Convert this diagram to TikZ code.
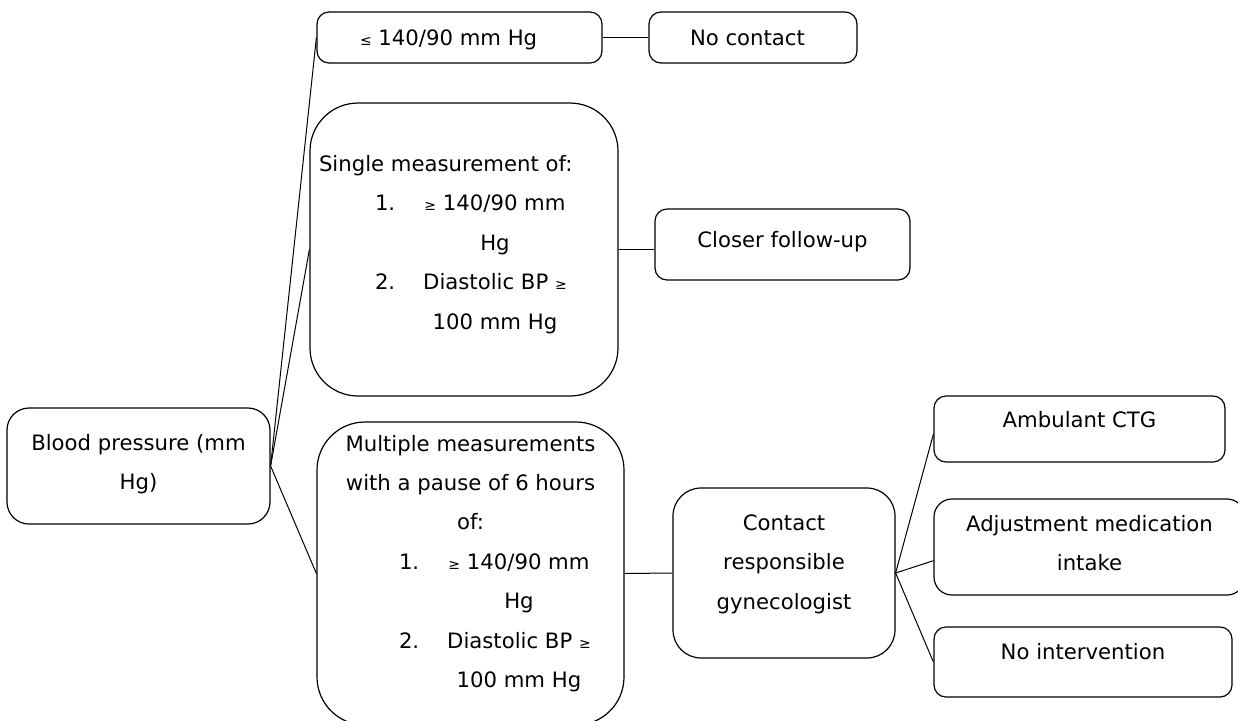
\documentclass[tikz,border=0pt]{standalone}
\usepackage{fontspec}
\setmainfont{DejaVu Sans}

\newcommand{\smallrel}[1]{{\fontsize{7}{7}\selectfont #1}}
\newcommand{\ctext}[2][0pt]{\begin{tabular}{@{}c@{}}#2\\[#1]\end{tabular}}
\newcommand{\ltext}[3][0pt]{\begin{tabular}{@{}p{#2}@{}}#3\\[#1]\end{tabular}}
\newcommand{\crow}[1]{\makebox[\linewidth]{#1}}
\newcommand{\listrow}[3]{\hspace*{#1}\makebox[24pt][l]{#2}\makebox[72pt]{#3}}

\tikzset{
  box/.style={draw, line width=0.6pt, rounded corners=6pt, inner sep=0pt,
    font=\fontsize{10.6}{19.7}\selectfont},
  link/.style={line width=0.5pt},
}

\begin{document}
\begin{tikzpicture}[x=0.5pt, y=-0.5pt]
\useasboundingbox (0,0) rectangle (1238,720);

\node[box, rounded corners=11pt, minimum width=131.5pt, minimum height=58pt] (blood) at (138.5,466)
  {\ctext[4pt]{Blood pressure (mm\\Hg)}};

\node[box, minimum width=142.5pt, minimum height=25.5pt] (low) at (459.5,37.5)
  {\ltext{142.5pt}{\hspace*{21.5pt}\smallrel{≤} 140/90 mm Hg}};
\node[box, minimum width=104pt, minimum height=25.5pt] (nocontact) at (753,37.5)
  {\ltext{104pt}{\hspace*{20.5pt}No contact}};

\node[box, rounded corners=24pt, minimum width=154pt, minimum height=146.5pt] (single) at (464,249.5)
  {\ltext[7pt]{154pt}{\hspace*{4.5pt}Single measurement of:\\
    \listrow{32.5pt}{1.}{\smallrel{≥} 140/90 mm}\\
    \listrow{32.5pt}{}{Hg}\\
    \listrow{32.5pt}{2.}{Diastolic BP \smallrel{≥}}\\
    \listrow{32.5pt}{}{100 mm Hg}}};
\node[box, minimum width=127.5pt, minimum height=35.5pt] (closer) at (782.5,244.5)
  {\ctext[4.5pt]{Closer follow-up}};

\node[box, rounded corners=24pt, minimum width=153.5pt, minimum height=151.5pt] (multi) at (470.5,573.5)
  {\ltext[12pt]{153.5pt}{\crow{Multiple measurements}\\
    \crow{with a pause of 6 hours}\\
    \crow{of:}\\
    \listrow{41pt}{1.}{\smallrel{≥} 140/90 mm}\\
    \listrow{41pt}{}{Hg}\\
    \listrow{41pt}{2.}{Diastolic BP \smallrel{≥}}\\
    \listrow{41pt}{}{100 mm Hg}}};
\node[box, rounded corners=14pt, minimum width=111pt, minimum height=85pt] (contact) at (784,573)
  {\ctext[11pt]{Contact\\responsible\\gynecologist}};

\node[box, minimum width=145.5pt, minimum height=33pt] (amb) at (1079.5,429)
  {\ctext[9pt]{Ambulant CTG}};
\node[box, rounded corners=9pt, minimum width=155.5pt, minimum height=48pt] (adjust) at (1089.5,547)
  {\ctext[4pt]{Adjustment medication\\intake}};
\node[box, minimum width=149pt, minimum height=35pt] (nointer) at (1083,662)
  {\ctext[10pt]{No intervention}};

\draw[link] (blood.east) -- (low.west);
\draw[link] (blood.east) -- (single.west);
\draw[link] (blood.east) -- (multi.west);
\draw[link] (low.east) -- (nocontact.west);
\draw[link] (single.east) -- (single.east -| closer.west);
\draw[link] (multi.east) -- (contact.west);
\draw[link] (contact.east) -- (amb.182);
\draw[link] (contact.east) -- (adjust.185);
\draw[link] (contact.east) -- (nointer.west);
\end{tikzpicture}
\end{document}
